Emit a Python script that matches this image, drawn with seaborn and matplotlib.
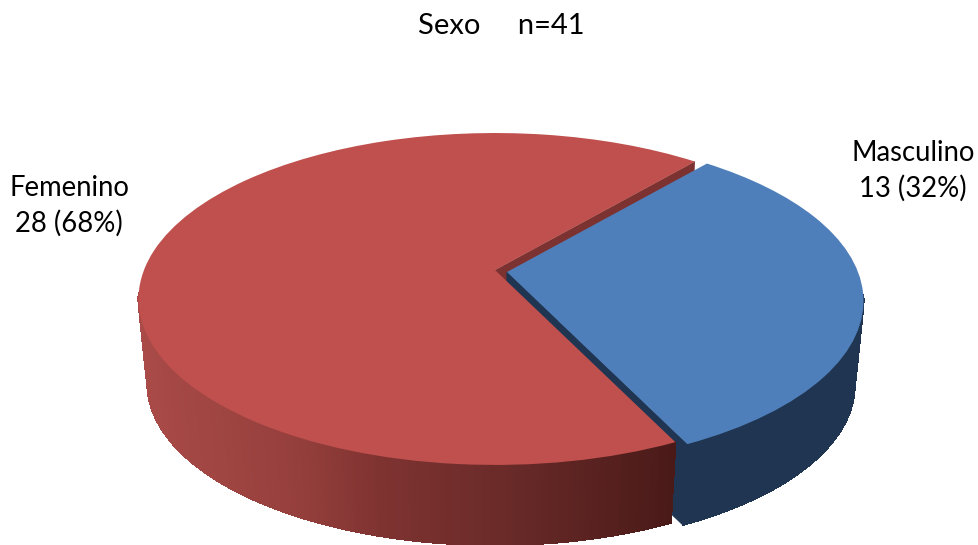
import numpy as np
import matplotlib
matplotlib.use("Agg")
import matplotlib.pyplot as plt
import seaborn as sns
from matplotlib.collections import PolyCollection
from matplotlib.colors import LinearSegmentedColormap
from matplotlib.patches import Polygon
from matplotlib.transforms import Transform

# Data
categories = ["Masculino", "Femenino"]
counts = [13, 28]
title_text = "Sexo     n=41"

# Styles
top_colors = ["#4F7FBA", "#BF504D"]
blue_wall = "#1F3552"
red_cut = "#7C3230"
blue_cut = "#1F3552"
red_wall_cmap = LinearSegmentedColormap.from_list(
    "redwall", [(0, "#AA4B48"), (0.3, "#953F3C"), (0.45, "#7F3331"), (0.7, "#682A28"), (1, "#4A1A18")]
)

# Projection of the unit disc to the page (pixels)
APEX_X, APEX_Y = 495.0, 270.0
A, B, K = 160.9, 351.0, 0.1746
DEPTH, LOW_SCALE = 85.0, 0.975
BLUE_SHIFT = (12.0, 2.0)
START_ANGLE = 49.8
RED_WALL_FROM = 188.0
BLUE_WALL_TO = -8.0


def project(xy, shift=(0.0, 0.0), low=False):
    xy = np.asarray(xy, dtype=float)
    x, y = xy[..., 0], xy[..., 1]
    d = 1 + K * y
    px, py = B * x / d, -A * y / d
    if low:
        px, py = px * LOW_SCALE, py * LOW_SCALE + DEPTH
    return np.stack([APEX_X + shift[0] + px, APEX_Y + shift[1] + py], axis=-1)


class DiscTransform(Transform):
    input_dims = output_dims = 2
    has_inverse = False
    is_affine = False

    def __init__(self, shift=(0.0, 0.0)):
        super().__init__()
        self.shift = shift

    def transform_non_affine(self, values):
        return project(values, self.shift)


def rim(t):
    t = np.deg2rad(t)
    return np.stack([np.cos(t), np.sin(t)], axis=-1)


sns.set_theme(style="white")
plt.rcParams["font.family"] = ["Lato", "DejaVu Sans"]

fig = plt.figure(figsize=(9.79, 5.45), dpi=100, facecolor="white")
ax = fig.add_axes([0, 0, 1, 1])

wedges, _ = ax.pie(counts, colors=top_colors, startangle=START_ANGLE, counterclock=False,
                   wedgeprops={"linewidth": 0, "zorder": 6})
ax.set_aspect("auto")
ax.set_xlim(0, 979)
ax.set_ylim(545, 0)
ax.axis("off")

# Angles derived from the values
sweep = 360.0 * counts[0] / sum(counts)
end_blue = START_ANGLE - sweep
edge_top = rim(START_ANGLE)
edge_bottom = rim(end_blue)
origin = np.array([0.0, 0.0])


def cut_face(edge, shift):
    return np.array([project(origin, shift), project(edge, shift),
                     project(edge, shift, True), project(origin, shift, True)])


# Cut faces
ax.add_patch(Polygon(cut_face(edge_top, (0, 0)), closed=True, fc=red_cut, ec=red_cut, lw=0.3, zorder=1))
ax.add_patch(Polygon(cut_face(edge_bottom, BLUE_SHIFT), closed=True, fc=blue_cut, ec=blue_cut, lw=0.8, zorder=2))


def wall_strips(t0, t1, shift, n):
    ts = np.linspace(t0, t1, n + 1)
    up, lo = project(rim(ts), shift), project(rim(ts), shift, True)
    return np.stack([up[:-1], up[1:], lo[1:], lo[:-1]], axis=1)


# Blue outer wall
blue_polys = wall_strips(end_blue, BLUE_WALL_TO, BLUE_SHIFT, 160)
ax.add_collection(PolyCollection(blue_polys, facecolors=blue_wall, edgecolors=blue_wall,
                                 linewidths=0.8, antialiaseds=False, zorder=3))

# Red outer wall with a horizontal gradient
red_polys = wall_strips(RED_WALL_FROM, 360 + end_blue, (0, 0), 300)
mid_x = red_polys[:, :, 0].mean(axis=1)
x_low, x_high = APEX_X - B * 1.015, project(edge_bottom)[0]
red_colors = red_wall_cmap(np.clip((mid_x - x_low) / (x_high - x_low), 0, 1))
ax.add_collection(PolyCollection(red_polys, facecolors=red_colors, edgecolors=red_colors,
                                 linewidths=0.8, antialiaseds=False, zorder=4))

# Top faces drawn by the pie
wedges[0].set_transform(DiscTransform(BLUE_SHIFT) + ax.transData)
wedges[1].set_transform(DiscTransform() + ax.transData)
wedges[0].set_zorder(7)
wedges[1].set_zorder(6)

# Text
pct = [round(100 * c / sum(counts)) for c in counts]
label_pos = [(913, 171), (69, 206)]
for name, c, p, (lx, ly) in zip(categories, counts, pct, label_pos):
    ax.text(lx, ly, f"{name}\n{c} ({p}%)", ha="center", va="center", fontsize=19.8,
            color="black", linespacing=1.38, zorder=8)
ax.text(501, 26, title_text, ha="center", va="center", fontsize=21, color="black", zorder=8)

fig.savefig("out.png", dpi=100, facecolor="white")
